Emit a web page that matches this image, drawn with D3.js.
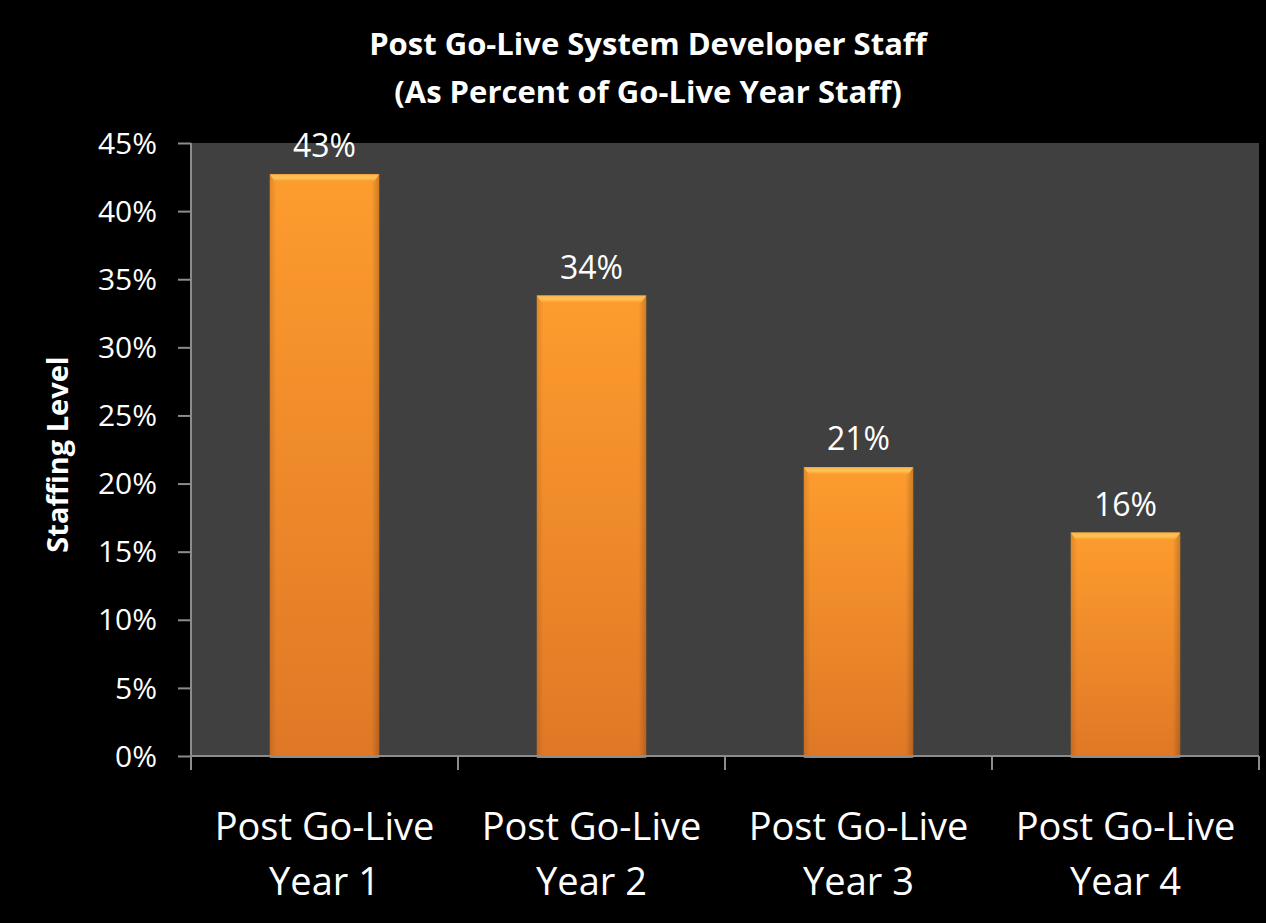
<!DOCTYPE html>
<html>
<head>
<meta charset="utf-8">
<script src="https://cdn.jsdelivr.net/npm/d3@7"></script>
<style>
  html, body { margin: 0; padding: 0; background: #000; }
  svg { display: block; }
  text { font-family: "Open Sans", "DejaVu Sans", sans-serif; fill: #fff; }
</style>
</head>
<body>
<div id="chart"></div>
<script>
const categories = ['Post Go-Live|Year 1', 'Post Go-Live|Year 2', 'Post Go-Live|Year 3', 'Post Go-Live|Year 4'];
const values = [0.427, 0.338, 0.212, 0.164];
const labels = ['43%', '34%', '21%', '16%'];
const yTicks = [0, 0.05, 0.10, 0.15, 0.20, 0.25, 0.30, 0.35, 0.40, 0.45];
const titleLines = ['Post Go-Live System Developer Staff', '(As Percent of Go-Live Year Staff)'];

const width = 1266;
const height = 923;
const margin = {top: 143, right: 7, bottom: 167, left: 191};
const chartWidth = width - margin.left - margin.right;
const chartHeight = height - margin.top - margin.bottom;

const svg = d3.select('#chart').append('svg')
    .attr('width', width)
    .attr('height', height);

svg.append('rect')
    .attr('width', width).attr('height', height)
    .attr('fill', '#000');

// gradients for the bars
const defs = svg.append('defs');
const grad = defs.append('linearGradient')
    .attr('id', 'barGrad').attr('x1', 0).attr('y1', 0).attr('x2', 0).attr('y2', 1);
grad.append('stop').attr('offset', '0%').attr('stop-color', '#fd9c2e');
grad.append('stop').attr('offset', '100%').attr('stop-color', '#df7826');

const sideGrad = defs.append('linearGradient')
    .attr('id', 'sideGrad').attr('x1', 0).attr('y1', 0).attr('x2', 1).attr('y2', 0);
sideGrad.append('stop').attr('offset', '0%').attr('stop-color', '#000').attr('stop-opacity', 0.12);
sideGrad.append('stop').attr('offset', '6%').attr('stop-color', '#000').attr('stop-opacity', 0);
sideGrad.append('stop').attr('offset', '93%').attr('stop-color', '#000').attr('stop-opacity', 0);
sideGrad.append('stop').attr('offset', '100%').attr('stop-color', '#000').attr('stop-opacity', 0.2);

const topGrad = defs.append('linearGradient')
    .attr('id', 'topGrad').attr('x1', 0).attr('y1', 0).attr('x2', 0).attr('y2', 1);
topGrad.append('stop').attr('offset', '0%').attr('stop-color', '#fdb347');
topGrad.append('stop').attr('offset', '50%').attr('stop-color', '#fdc457');
topGrad.append('stop').attr('offset', '100%').attr('stop-color', '#fd9c2e');

const g = svg.append('g')
    .attr('transform', `translate(${margin.left},${margin.top})`);

const xScale = d3.scaleBand()
    .domain(categories)
    .range([0, chartWidth])
    .paddingInner(0.59)
    .paddingOuter(0.295);

const yScale = d3.scaleLinear()
    .domain([0, 0.45])
    .range([chartHeight, 0]);

// plot area
g.append('rect')
    .attr('width', chartWidth)
    .attr('height', chartHeight)
    .attr('fill', '#404040');

// bars
const bars = g.selectAll('.bar')
    .data(values)
    .join('g')
    .attr('class', 'bar')
    .attr('transform', (d, i) => `translate(${xScale(categories[i])},0)`);

bars.append('rect')
    .attr('y', d => yScale(d))
    .attr('width', xScale.bandwidth())
    .attr('height', d => chartHeight - yScale(d) + 2)
    .attr('fill', 'url(#barGrad)');

bars.append('rect')
    .attr('y', d => yScale(d))
    .attr('width', xScale.bandwidth())
    .attr('height', d => chartHeight - yScale(d) + 2)
    .attr('fill', 'url(#sideGrad)');

bars.append('path')
    .attr('d', d => {
        const y0 = yScale(d), w = xScale.bandwidth();
        return `M0,${y0} L${w},${y0} L${w - 5},${y0 + 7} L5,${y0 + 7} Z`;
    })
    .attr('fill', 'url(#topGrad)');

// value labels
g.selectAll('.value-label')
    .data(values)
    .join('text')
    .attr('class', 'value-label')
    .attr('x', (d, i) => xScale(categories[i]) + xScale.bandwidth() / 2)
    .attr('y', d => yScale(d) - 17)
    .attr('text-anchor', 'middle')
    .attr('font-size', 32)
    .text((d, i) => labels[i]);

// y axis
const yAxis = d3.axisLeft(yScale)
    .tickValues(yTicks)
    .tickSize(13)
    .tickPadding(21)
    .tickFormat(d3.format('.0%'));

const yAxisG = g.append('g').call(yAxis);
yAxisG.select('.domain').attr('stroke', '#8c8c8c').attr('stroke-width', 2).attr('d', `M0,0V${chartHeight}`);
yAxisG.selectAll('.tick line').attr('stroke', '#8c8c8c').attr('stroke-width', 2);
yAxisG.selectAll('.tick text')
    .attr('fill', '#fff')
    .attr('font-size', 30)
    .attr('dy', '0.34em');

// x axis: ticks on category boundaries
const xAxisG = g.append('g').attr('transform', `translate(0,${chartHeight})`);
xAxisG.append('line')
    .attr('x1', 0).attr('x2', chartWidth)
    .attr('stroke', '#8c8c8c').attr('stroke-width', 2);
const step = xScale.step();
xAxisG.selectAll('.xtick')
    .data(d3.range(categories.length + 1))
    .join('line')
    .attr('class', 'xtick')
    .attr('x1', i => i * step).attr('x2', i => i * step)
    .attr('y1', 0).attr('y2', 14)
    .attr('stroke', '#8c8c8c').attr('stroke-width', 2);

xAxisG.selectAll('.xlabel')
    .data(categories)
    .join('text')
    .attr('class', 'xlabel')
    .attr('x', d => xScale(d) + xScale.bandwidth() / 2)
    .attr('text-anchor', 'middle')
    .attr('font-size', 38)
    .each(function(d) {
        const parts = d.split('|');
        d3.select(this).selectAll('tspan')
            .data(parts)
            .join('tspan')
            .attr('x', xScale(d) + xScale.bandwidth() / 2)
            .attr('y', (p, j) => 84 + j * 55)
            .text(p => p);
    });

// y axis title
svg.append('text')
    .attr('transform', `translate(68,${margin.top + chartHeight / 2 + 5}) rotate(-90)`)
    .attr('text-anchor', 'middle')
    .attr('font-size', 29)
    .attr('font-weight', 'bold')
    .text('Staffing Level');

// chart title
svg.append('g').selectAll('text')
    .data(titleLines)
    .join('text')
    .attr('x', 648)
    .attr('y', (d, i) => 55 + i * 48)
    .attr('text-anchor', 'middle')
    .attr('font-size', 31)
    .attr('font-weight', 'bold')
    .text(d => d);
</script>
</body>
</html>
